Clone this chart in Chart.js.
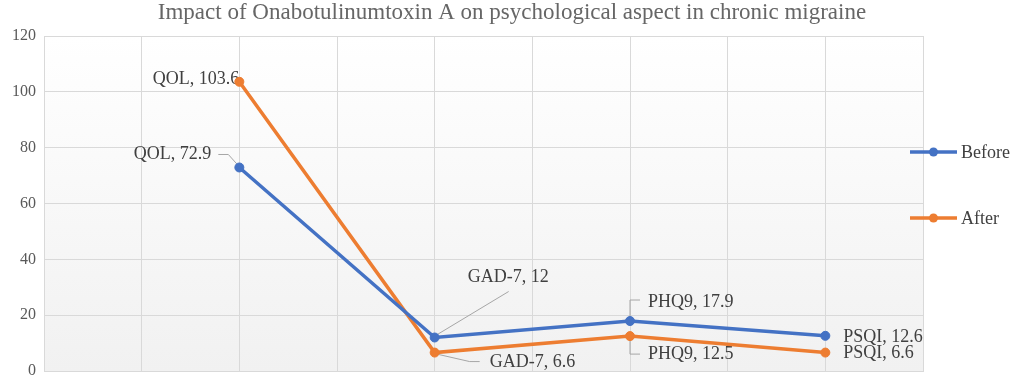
<!DOCTYPE html>
<html><head><meta charset="utf-8">
<script src="https://cdn.jsdelivr.net/npm/chart.js@4.4.0/dist/chart.umd.min.js"></script>
<style>html,body{margin:0;padding:0;background:#fff}</style>
</head><body><canvas id="c" width="1012" height="379"></canvas>
<script>
const chartTitle = 'Impact of Onabotulinumtoxin A on psychological aspect in chronic migraine';
const categories = ['QOL', 'GAD-7', 'PHQ9', 'PSQI'];
const categoryX = [2, 4, 6, 8];
const beforeValues = [72.9, 12, 17.9, 12.6];
const afterValues = [103.6, 6.6, 12.5, 6.6];
const seriesNames = ['Before', 'After'];
const yTickStep = 20;
const yMax = 120;

const BLUE = '#4472C4', ORANGE = '#ED7D31';
const SERIF = "'Liberation Serif', 'Times New Roman', serif";

// label placement styles relative to each point (pixels)
const labelStyles = [
  [ {dx:-28, dy:-13, align:'right', leader:[[-21,-13],[-11,-13],[-2,-3]]},
    {dx:33, dy:-60, align:'left', leader:[[74,-46],[1,-2]]},
    {dx:18, dy:-19, align:'left', leader:[[0,-3],[0,-21],[10,-21]]},
    {dx:18, dy:1, align:'left'} ],
  [ {dx:0, dy:-3, align:'right'},
    {dx:55, dy:10, align:'left', leader:[[0,1],[35,9],[45,9]]},
    {dx:18, dy:18, align:'left', leader:[[0,3],[0,18],[10,18]]},
    {dx:18, dy:1, align:'left'} ]
];

const mk = (vals) => vals.map((v, i) => ({x: categoryX[i], y: v}));

const bgPlugin = {
  id: 'plotBg',
  beforeDraw(chart) {
    const {ctx, chartArea: a} = chart;
    const g = ctx.createLinearGradient(0, a.top, 0, a.bottom);
    g.addColorStop(0, '#ffffff');
    g.addColorStop(1, '#f1f1f1');
    ctx.save();
    ctx.fillStyle = g;
    ctx.fillRect(a.left, a.top, a.right - a.left, a.bottom - a.top);
    ctx.restore();
  }
};

const labelPlugin = {
  id: 'dataLabels',
  beforeDatasetsDraw(chart) {
    const ctx = chart.ctx;
    ctx.save();
    chart.data.datasets.forEach((ds, di) => {
      const meta = chart.getDatasetMeta(di);
      meta.data.forEach((pt, i) => {
        const st = labelStyles[di][i];
        if (st.leader) {
          ctx.strokeStyle = '#a6a6a6';
          ctx.lineWidth = 1;
          ctx.beginPath();
          st.leader.forEach((p, k) => {
            if (k === 0) ctx.moveTo(pt.x + p[0], pt.y + p[1]);
            else ctx.lineTo(pt.x + p[0], pt.y + p[1]);
          });
          ctx.stroke();
        }
        ctx.fillStyle = '#404040';
        ctx.font = '18px ' + SERIF;
        ctx.textAlign = st.align;
        ctx.textBaseline = 'middle';
        ctx.fillText(categories[i] + ', ' + ds.data[i].y, pt.x + st.dx, pt.y + st.dy);
      });
    });
    ctx.restore();
  }
};

const titleLegendPlugin = {
  id: 'titleLegend',
  afterDraw(chart) {
    const ctx = chart.ctx;
    ctx.save();
    ctx.fillStyle = '#666666';
    ctx.font = '23px ' + SERIF;
    ctx.textAlign = 'center';
    ctx.textBaseline = 'alphabetic';
    ctx.fillText(chartTitle, 512, 19);
    const ys = [152, 218];
    chart.data.datasets.forEach((ds, di) => {
      const y = ys[di];
      ctx.strokeStyle = ds.borderColor;
      ctx.lineWidth = 3.5;
      ctx.beginPath();
      ctx.moveTo(910, y); ctx.lineTo(957, y);
      ctx.stroke();
      ctx.fillStyle = ds.borderColor;
      ctx.beginPath();
      ctx.arc(933.5, y, 4.5, 0, Math.PI * 2);
      ctx.fill();
      ctx.fillStyle = '#404040';
      ctx.font = '18px ' + SERIF;
      ctx.textAlign = 'left';
      ctx.textBaseline = 'middle';
      ctx.fillText(ds.label, 961, y + 1);
    });
    ctx.restore();
  }
};

new Chart(document.getElementById('c'), {
  type: 'line',
  data: {
    datasets: [
      {label: seriesNames[0], data: mk(beforeValues), borderColor: BLUE, backgroundColor: BLUE,
       borderWidth: 3.5, pointRadius: 4.5, pointBorderWidth: 1, pointBackgroundColor: BLUE, tension: 0},
      {label: seriesNames[1], data: mk(afterValues), borderColor: ORANGE, backgroundColor: ORANGE,
       borderWidth: 3.5, pointRadius: 4.5, pointBorderWidth: 1, pointBackgroundColor: ORANGE, tension: 0}
    ]
  },
  options: {
    responsive: false,
    animation: false,
    layout: {padding: {top: 36, right: 89, bottom: 8, left: 0}},
    plugins: {legend: {display: false}, title: {display: false}, tooltip: {enabled: false}},
    scales: {
      x: {
        type: 'linear', min: 0, max: 9,
        ticks: {display: false, stepSize: 1},
        grid: {color: '#d9d9d9', lineWidth: 1, drawTicks: false},
        border: {color: '#d9d9d9', width: 1},
        afterFit(scale) { scale.height = 0; }
      },
      y: {
        min: 0, max: yMax,
        ticks: {stepSize: yTickStep, color: '#595959', font: {family: SERIF, size: 16, lineHeight: 1}, padding: 8},
        grid: {color: '#d9d9d9', lineWidth: 1, drawTicks: false},
        border: {color: '#d9d9d9', width: 1},
        afterFit(scale) { scale.width = 44; scale.paddingTop = 0; scale.paddingBottom = 0; }
      }
    }
  },
  plugins: [bgPlugin, labelPlugin, titleLegendPlugin]
});
</script>
</body></html>
